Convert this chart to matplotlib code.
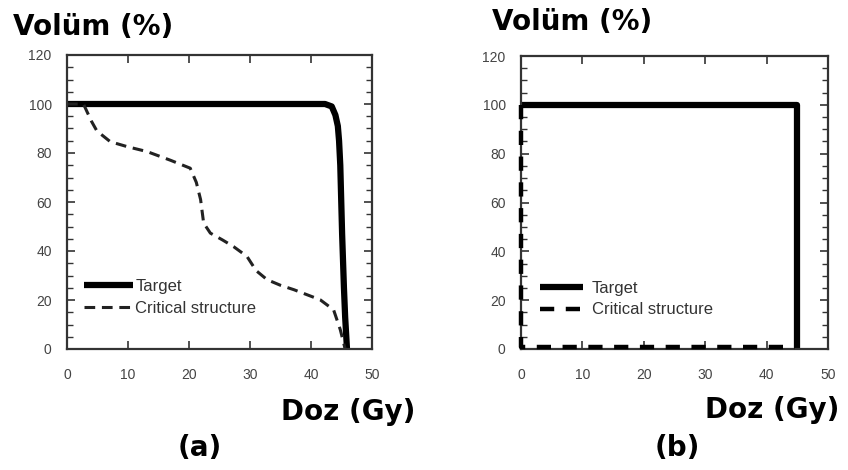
import matplotlib
matplotlib.use("Agg")
import matplotlib.pyplot as plt
from matplotlib.ticker import MultipleLocator

# ---- data ----
target_a_x = [0, 42.3, 43.4, 44.0, 44.4, 44.6, 44.8, 45.1, 45.4, 45.6, 45.9]
target_a_y = [100, 100, 99, 95.5, 91, 85, 75, 47, 25, 13, 0]
crit_a_x = [0, 2.7, 4.0, 4.9, 7.1, 10, 13.1, 17, 20.2, 21.2, 21.9, 22.4, 23.5, 25.5, 27.3, 29.5, 31.0, 32.8, 35, 37.2, 41.5, 43.7, 44.8, 45.6]
crit_a_y = [100, 100, 93, 89, 84.6, 82.5, 80.6, 77, 73.8, 68, 61, 51.4, 47.3, 44.5, 41.8, 37.8, 32, 28.3, 26, 24.2, 20.1, 16, 7.9, 0]
target_b_x = [0, 45, 45]
target_b_y = [100, 100, 0]
crit_b_x = [0, 0, 44.7]
crit_b_y = [100, 0.8, 0.8]
xticks = [0, 10, 20, 30, 40, 50]
yticks = [0, 20, 40, 60, 80, 100, 120]
labels = ["Target", "Critical structure"]

W, H = 848, 470
fig = plt.figure(figsize=(W/100, H/100), dpi=100)

narrow = ["Liberation Sans Narrow", "Liberation Sans", "DejaVu Sans"]

def px_axes(l, t, r, b):
    return fig.add_axes([l/W, 1 - b/H, (r-l)/W, (b-t)/H])

def style(ax):
    ax.set_xlim(0, 50)
    ax.set_ylim(0, 120)
    ax.set_xticks(xticks)
    ax.set_yticks(yticks)
    ax.yaxis.set_minor_locator(MultipleLocator(5))
    ax.tick_params(which="both", direction="in", top=True, right=True, color="#333333")
    ax.tick_params(which="major", length=6, width=1.2, labelsize=10, labelcolor="#444444")
    ax.tick_params(axis="x", which="major", pad=14)
    ax.tick_params(axis="y", which="major", pad=11)
    ax.tick_params(which="minor", length=4, width=1.0)
    for lab in ax.get_xticklabels() + ax.get_yticklabels():
        lab.set_family(narrow)
    for s in ax.spines.values():
        s.set_linewidth(1.6)
        s.set_color("#333333")

ax1 = px_axes(67, 55, 372, 349)
l1, = ax1.plot(target_a_x, target_a_y, color="black", lw=4.5, solid_capstyle="butt",
               solid_joinstyle="round")
l2, = ax1.plot(crit_a_x, crit_a_y, color="#222222", lw=2.2, dashes=(3.5, 2.2))
style(ax1)
ax1.legend([l1, l2], labels, loc="lower left", bbox_to_anchor=(0.035, 0.09), frameon=False,
           handlelength=2.9, handletextpad=0.15, labelspacing=0.4, borderaxespad=0,
           prop={"family": narrow, "size": 12}, labelcolor="#333333")

ax2 = px_axes(521, 56, 828, 349)
m1, = ax2.plot(target_b_x, target_b_y, color="black", lw=4.5, solid_capstyle="butt")
m2, = ax2.plot(crit_b_x, crit_b_y, color="black", lw=3.2, dashes=(3.2, 2.6),
               clip_on=False, zorder=4)
style(ax2)
ax2.legend([m1, m2], labels, loc="lower left", bbox_to_anchor=(0.04, 0.085), frameon=False,
           handlelength=2.6, handletextpad=0.5, labelspacing=0.4, borderaxespad=0,
           prop={"family": narrow, "size": 12}, labelcolor="#333333")

bold = dict(fontweight="bold", fontsize=20, family="DejaVu Sans", color="black")
fig.text(13/W, 1 - 27/H, "Volüm (%)", va="center", ha="left", **bold)
fig.text(492/W, 1 - 22/H, "Volüm (%)", va="center", ha="left", **bold)
fig.text(415/W, 1 - 412/H, "Doz (Gy)", va="center", ha="right", **bold)
fig.text(839/W, 1 - 410/H, "Doz (Gy)", va="center", ha="right", **bold)
fig.text(200/W, 1 - 448/H, "(a)", va="center", ha="center", **bold)
fig.text(677/W, 1 - 448/H, "(b)", va="center", ha="center", **bold)

fig.savefig("out.png", dpi=100)
